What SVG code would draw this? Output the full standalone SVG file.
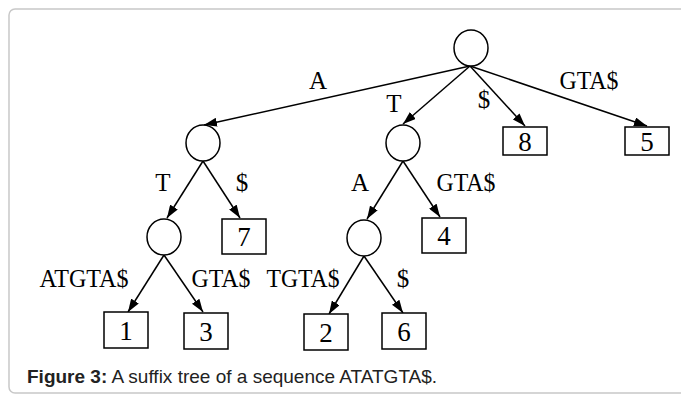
<svg xmlns="http://www.w3.org/2000/svg" width="681" height="396" viewBox="0 0 681 396">
  <style>
    .node { fill: #ffffff; stroke: #000000; stroke-width: 1.5; }
    .edge { fill: none; stroke: #000000; stroke-width: 1.5; marker-end: url(#arrow); }
    .lbl { font-family: "Liberation Serif", "Times New Roman", serif; font-size: 25px; fill: #000000; text-anchor: middle; }
    .num { font-family: "Liberation Serif", "Times New Roman", serif; font-size: 27px; fill: #000000; text-anchor: middle; dominant-baseline: central; }
    .cap { font-family: "Liberation Sans", Arial, sans-serif; font-size: 19px; fill: #222222; }
  </style>
  <defs>
    <marker id="arrow" viewBox="0 0 13 9" refX="13" refY="4.5" markerWidth="13" markerHeight="9" markerUnits="userSpaceOnUse" orient="auto">
      <path d="M0,0 L13,4.5 L0,9 Z" fill="#000000"/>
    </marker>
  </defs>

  <rect x="0" y="0" width="681" height="396" fill="#ffffff"/>
  <!-- figure frame -->
  <rect x="9" y="9" width="700" height="384" rx="6" ry="6" fill="#ffffff" stroke="#c8c8c8" stroke-width="1.5"/>

  <!-- connectors -->
  <g id="edges">
    <line class="edge" x1="470" y1="66" x2="204" y2="125"/>
    <line class="edge" x1="470" y1="66" x2="403" y2="124"/>
    <line class="edge" x1="470" y1="66" x2="525" y2="126"/>
    <line class="edge" x1="470" y1="66" x2="647" y2="126"/>
    <line class="edge" x1="203" y1="161" x2="167" y2="218"/>
    <line class="edge" x1="203" y1="161" x2="240" y2="218"/>
    <line class="edge" x1="403" y1="161" x2="367" y2="219"/>
    <line class="edge" x1="403" y1="161" x2="440" y2="217"/>
    <line class="edge" x1="164" y1="255" x2="128" y2="312"/>
    <line class="edge" x1="164" y1="255" x2="203" y2="312"/>
    <line class="edge" x1="364" y1="256" x2="329" y2="314"/>
    <line class="edge" x1="364" y1="256" x2="403" y2="313"/>
  </g>

  <!-- edge labels -->
  <g id="edge-labels">
    <text class="lbl" x="318" y="89">A</text>
    <text class="lbl" x="394" y="112">T</text>
    <text class="lbl" x="484" y="108">$</text>
    <text class="lbl" x="589" y="89" textLength="59" lengthAdjust="spacingAndGlyphs">GTA$</text>
    <text class="lbl" x="163" y="191">T</text>
    <text class="lbl" x="242" y="191">$</text>
    <text class="lbl" x="360" y="191">A</text>
    <text class="lbl" x="466" y="191" textLength="59" lengthAdjust="spacingAndGlyphs">GTA$</text>
    <text class="lbl" x="84" y="287" textLength="89" lengthAdjust="spacingAndGlyphs">ATGTA$</text>
    <text class="lbl" x="221" y="287" textLength="59" lengthAdjust="spacingAndGlyphs">GTA$</text>
    <text class="lbl" x="303" y="287" textLength="73" lengthAdjust="spacingAndGlyphs">TGTA$</text>
    <text class="lbl" x="403" y="287">$</text>
  </g>

  <!-- internal nodes -->
  <g id="root"><ellipse class="node" cx="471" cy="48" rx="17" ry="18"/></g>
  <g id="node-A"><ellipse class="node" cx="203" cy="143" rx="17" ry="18"/></g>
  <g id="node-T"><ellipse class="node" cx="403" cy="143" rx="17" ry="18"/></g>
  <g id="node-AT"><ellipse class="node" cx="164" cy="237" rx="17" ry="18"/></g>
  <g id="node-TA"><ellipse class="node" cx="364" cy="238" rx="17" ry="18"/></g>

  <!-- leaves -->
  <g id="leaf-8"><rect class="node" x="503" y="127" width="44" height="28"/><text class="num" x="525" y="142">8</text></g>
  <g id="leaf-5"><rect class="node" x="625" y="127" width="44" height="28"/><text class="num" x="647" y="142">5</text></g>
  <g id="leaf-7"><rect class="node" x="222" y="219" width="44" height="35"/><text class="num" x="244" y="237">7</text></g>
  <g id="leaf-4"><rect class="node" x="422" y="218" width="44" height="35"/><text class="num" x="444" y="236">4</text></g>
  <g id="leaf-1"><rect class="node" x="104" y="312" width="44" height="36"/><text class="num" x="126" y="331">1</text></g>
  <g id="leaf-3"><rect class="node" x="184" y="313" width="44" height="36"/><text class="num" x="206" y="332">3</text></g>
  <g id="leaf-2"><rect class="node" x="304" y="314" width="44" height="36"/><text class="num" x="326" y="333">2</text></g>
  <g id="leaf-6"><rect class="node" x="382" y="313" width="44" height="36"/><text class="num" x="404" y="332">6</text></g>

  <!-- caption -->
  <text class="cap" x="27" y="383"><tspan font-weight="bold">Figure 3:</tspan> A suffix tree of a sequence ATATGTA$.</text>
</svg>
